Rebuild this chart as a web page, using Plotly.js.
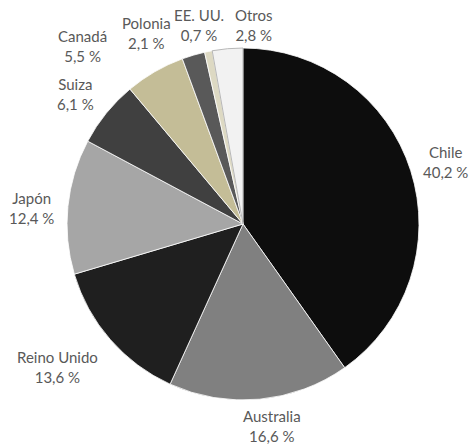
<!DOCTYPE html>
<html><head><meta charset="utf-8">
<script src="https://cdn.plot.ly/plotly-3.0.1.min.js"></script>
<style>html,body{margin:0;padding:0;background:#fff;}#chart{width:469px;height:445px;}</style>
</head><body><div id="chart"></div>
<script>
const countries = ["Chile","Australia","Reino Unido","Japón","Suiza","Canadá","Polonia","EE. UU.","Otros"];
const shares = [40.2,16.6,13.6,12.4,6.1,5.5,2.1,0.7,2.8];
const sliceColors = ["#0d0d0d","#808080","#1f1f1f","#a6a6a6","#404040","#c4bd97","#595959","#ddd9c3","#f2f2f2"];
const edgeColors = ["#ffffff","#ffffff","#ffffff","#ffffff","#ffffff","#ffffff","#ffffff","#ffffff","#a6a6a6"];
// label placement tweaks (radius factor, angle offset in degrees), like Excel's best-fit labels
const labelRadius = [1.206,1.16,1.333,1.208,1.207,1.36,1.217,1.157,1.132];
const labelAngleShift = [0.6,-2.8,3.4,-1.5,-1.3,-12,-10.5,-1,8.2];

const W = 469, H = 445;
const dom = {x: [0.1429, 0.8934], y: [0.1011, 0.8921]};
const cx = (dom.x[0] + dom.x[1]) / 2, cy = (dom.y[0] + dom.y[1]) / 2;
const rPx = Math.min((dom.x[1]-dom.x[0])*W, (dom.y[1]-dom.y[0])*H) / 2;
const total = shares.reduce((a, b) => a + b, 0);

const annotations = [];
let cum = 0;
shares.forEach((v, i) => {
  const mid = (cum + v / 2) / total * 360 + labelAngleShift[i];
  cum += v;
  const a = mid * Math.PI / 180;
  const d = rPx * labelRadius[i];
  annotations.push({
    xref: "paper", yref: "paper",
    x: cx + d * Math.sin(a) / W,
    y: cy + d * Math.cos(a) / H,
    text: countries[i] + "<br>" + v.toFixed(1).replace(".", ",") + " %",
    showarrow: false, xanchor: "center", yanchor: "middle",
    font: {family: "Lato, Open Sans, sans-serif", size: 15, color: "#595959"}
  });
});

Plotly.newPlot("chart", [{
  type: "pie",
  labels: countries,
  values: shares,
  sort: false,
  direction: "clockwise",
  rotation: 0,
  marker: {colors: sliceColors, line: {color: edgeColors, width: 0.8}},
  textinfo: "none",
  hoverinfo: "none",
  domain: dom
}], {
  width: W, height: H,
  margin: {l: 0, r: 0, t: 0, b: 0},
  showlegend: false,
  annotations: annotations,
  paper_bgcolor: "#ffffff"
}, {staticPlot: true, displayModeBar: false});
</script></body></html>
